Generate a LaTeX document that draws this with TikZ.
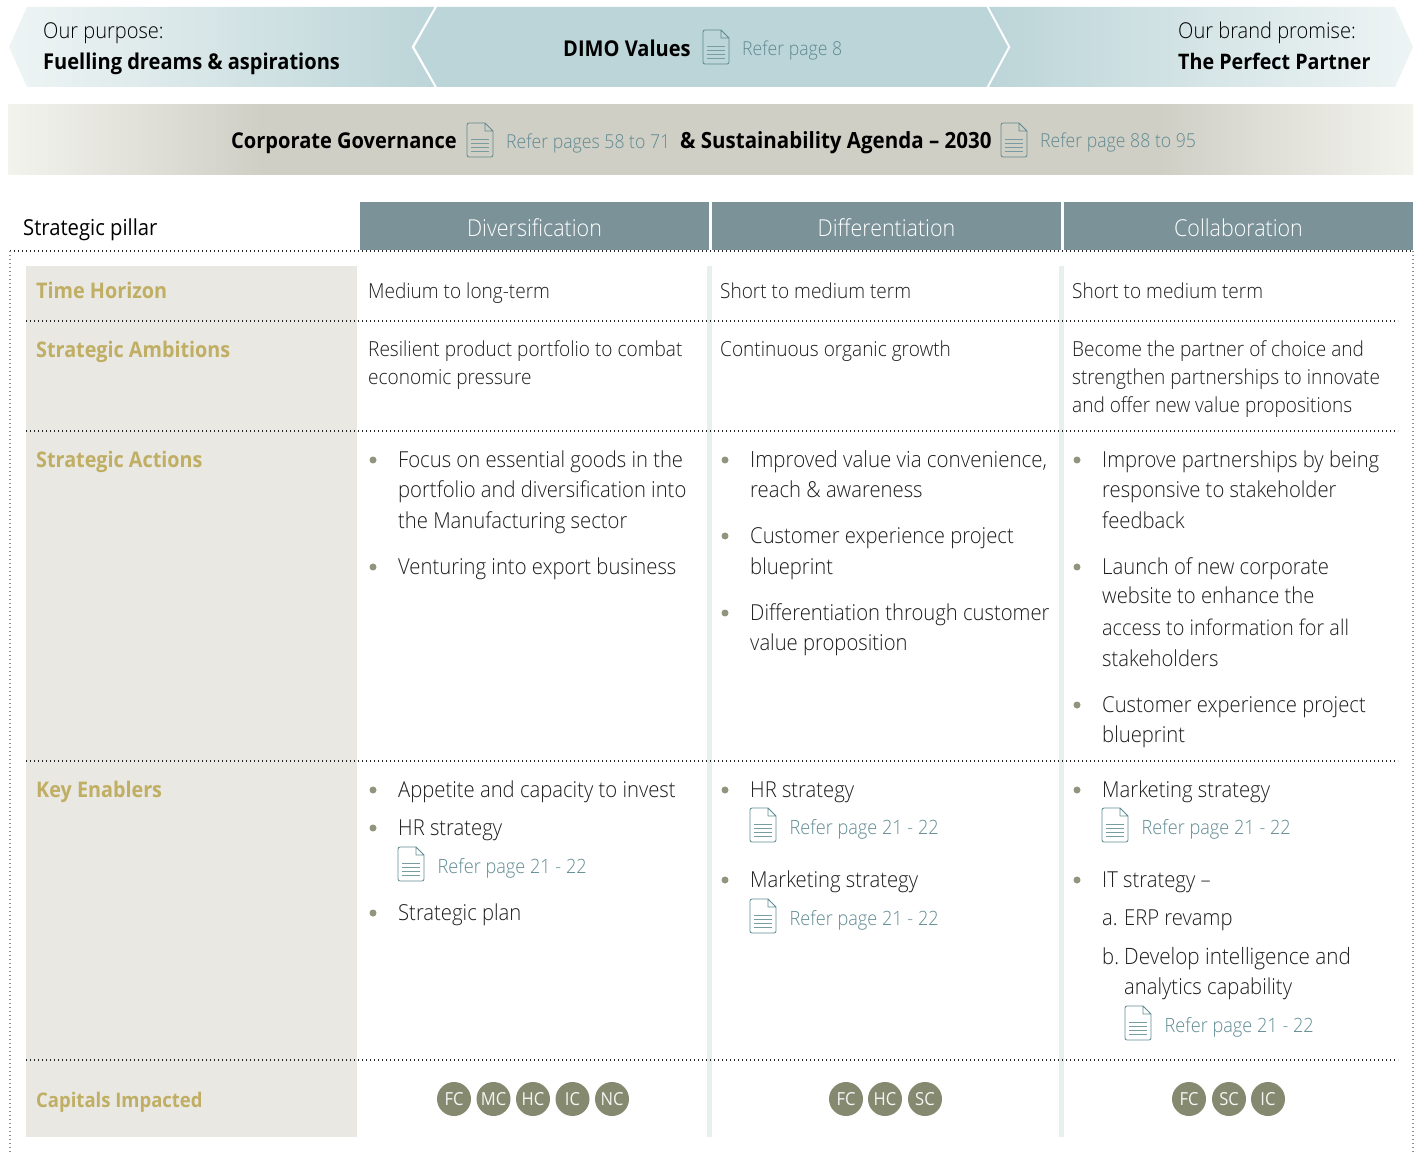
\documentclass[tikz,border=0pt]{standalone}
\usepackage{fontspec}
\setmainfont{Open Sans}[FakeStretch=0.92]
\newfontfamily\lightf{Open Sans Light}[FakeStretch=0.92]
\usetikzlibrary{calc}
\definecolor{hdr}{HTML}{7B9298}
\definecolor{arrowc}{HTML}{BCD5D8}
\definecolor{arrowl}{HTML}{EEF4F4}
\definecolor{band}{HTML}{D0CFC6}
\definecolor{bandl}{HTML}{F3F3EE}
\definecolor{labelbg}{HTML}{E9E8E2}
\definecolor{sepc}{HTML}{E8F0EF}
\definecolor{gold}{HTML}{BFAE63}
\definecolor{capc}{HTML}{85896F}
\definecolor{refc}{HTML}{5F8A92}
\definecolor{iconc}{HTML}{5F8A90}
\definecolor{bodyc}{HTML}{1C1C1C}
% tikz maps the central 25bp..75bp of a shading onto the path
\pgfdeclarehorizontalshading{bandshade}{100bp}{
  color(0bp)=(bandl); color(25bp)=(bandl); color(34bp)=(band);
  color(66bp)=(band); color(75bp)=(bandl); color(100bp)=(bandl)}
\newcounter{nid}
\tikzset{
  basetext/.style={anchor=base west,inner sep=0pt},
  body/.style={basetext,text=bodyc,font=\lightf\fontsize{22}{26}\selectfont},
  bodysm/.style={basetext,text=bodyc,font=\lightf\fontsize{20.7}{26}\selectfont},
  boldt/.style={basetext,text=black,font=\bfseries\fontsize{21.8}{26}\selectfont},
  plain/.style={basetext,text=black,font=\lightf\fontsize{21.8}{26}\selectfont},
  pillar/.style={basetext,text=black,font=\fontsize{22}{26}\selectfont},
  reft/.style={basetext,text=refc,font=\lightf\fontsize{19.7}{24}\selectfont},
  reftb/.style={basetext,text=refc,font=\lightf\fontsize{19.2}{24}\selectfont},
  labelt/.style={basetext,text=gold,font=\bfseries\fontsize{21.5}{26}\selectfont},
  labeltc/.style={basetext,text=gold,font=\bfseries\fontsize{20.1}{26}\selectfont},
  headt/.style={anchor=center,inner sep=0pt,text=white,font=\lightf\fontsize{23.3}{26}\selectfont},
  capn/.style={circle,fill=capc,minimum size=34pt,inner sep=0pt,text=white!92!capc,font=\fontsize{18}{22}\selectfont},
  dotl/.style={draw=black!85,line width=1.1pt,dash pattern=on 1.3pt off 2.7pt},
  dotv/.style={draw=black!45,line width=1.2pt,dash pattern=on 1.3pt off 2.7pt},
  iconl/.style={draw=iconc,line width=0.8pt,line join=round},
  bul/.style={circle,fill=capc!90,minimum size=7pt,inner sep=0pt},
}
\newcommand{\Tx}[4][body]{\stepcounter{nid}\node[#1] (t\thenid) at (#2,#3) {#4};}
\newcommand{\Fs}[2]{\fontsize{#1}{26}\selectfont #2}
\newcommand{\Bl}[2]{\stepcounter{nid}\node[bul] (b\thenid) at (#1,#2) {};}
\newcommand{\Cp}[3]{\stepcounter{nid}\node[capn] (c\thenid) at (#1,#2) {#3};}
% document icon, top-left x,y, width 26, height 34
\newcommand{\Ic}[2]{\begin{scope}[shift={(#1,#2)}]
  \draw[iconl] (18,0) -- (2,0) to[out=180,in=90] (0,2) -- (0,32) to[out=-90,in=180] (2,34) -- (24,34) to[out=0,in=-90] (26,32) -- (26,8) -- (18,0) -- (18,8) -- (26,8);
  \foreach \yy in {16,20,24,28}{\draw[iconl,line width=0.9pt,draw=iconc!85] (4,\yy) -- (22,\yy);}
\end{scope}}
\newcommand{\Rf}[3]{\Ic{#1}{#2}\Tx[reft]{#1+39.5}{#2+26}{#3}}
\begin{document}
\begin{tikzpicture}[x=1pt,y=-1pt]
\useasboundingbox (0,0) rectangle (1418,1155);
% top chevrons
\begin{scope}
  \clip (9,47) -- (27,7) -- (434.5,7) -- (411.5,47) -- (434.5,87) -- (27,87) -- cycle;
  \shade[left color=arrowl,right color=arrowc] (9,7) rectangle (435,87);
\end{scope}
\fill[arrowc] (437,7) -- (986.5,7) -- (1008,47) -- (986.5,87) -- (437,87) -- (414.5,47) -- cycle;
\begin{scope}
  \clip (1413,47) -- (1395,7) -- (989,7) -- (1010.5,47) -- (989,87) -- (1395,87) -- cycle;
  \shade[left color=arrowc,right color=arrowl] (988,7) rectangle (1413,87);
\end{scope}
% band
\shade[shading=bandshade] (8,105) rectangle (1413,175);
% header cells
\fill[hdr] (360,202) rectangle (709,250);
\fill[hdr] (712,202) rectangle (1061,250);
\fill[hdr] (1064,202) rectangle (1413,250);
% column backgrounds
\fill[labelbg] (26,266) rectangle (357,1137);
\fill[sepc] (707,266) rectangle (712,1137);
\fill[sepc] (1059,266) rectangle (1064,1137);
% dotted frame and rows
\draw[dotl] (10,251) -- (1413,251);
\draw[dotv] (10,251) -- (10,1155);
\draw[dotv] (1413,251) -- (1413,1155);
\foreach \yy in {321,431,761,1060}{\draw[dotl] (26,\yy) -- (1398,\yy);}
% top texts
\Tx[plain]{43}{39}{Our purpose:}
\Tx[boldt]{43}{70}{Fuelling dreams \& aspirations}
\Tx[boldt]{563}{57}{DIMO Values}
\Ic{703}{30}
\Tx[reftb]{742}{56}{Refer page 8}
\Tx[plain]{1178}{39}{Our brand promise:}
\Tx[boldt]{1178}{70}{\Fs{21.4}{The Perfect Partner}}
\Tx[boldt]{231}{149}{Corporate Governance}
\Ic{467}{123}
\Tx[reftb]{506}{149}{Refer pages 58 to 71}
\Tx[boldt]{680}{149}{\Fs{22.3}{\& Sustainability Agenda – 2030}}
\Ic{1001}{123}
\Tx[reftb]{1040}{148}{Refer page 88 to 95}
% headers
\Tx[pillar]{23}{236}{Strategic pillar}
\Tx[headt]{534.5}{228}{Diversification}
\Tx[headt]{886.5}{228}{Differentiation}
\Tx[headt]{1238.5}{228}{Collaboration}
% row labels
\Tx[labelt]{36}{299}{Time Horizon}
\Tx[labelt]{36}{357}{Strategic Ambitions}
\Tx[labelt]{36}{467}{Strategic Actions}
\Tx[labelt]{36}{797}{Key Enablers}
\Tx[labeltc]{36}{1107}{Capitals Impacted}
% time horizon
\Tx[bodysm]{368}{299}{Medium to long-term}
\Tx[bodysm]{720}{299}{Short to medium term}
\Tx[bodysm]{1072}{299}{Short to medium term}
% ambitions
\Tx[bodysm]{368}{356}{Resilient product portfolio to combat}
\Tx[bodysm]{368}{384}{economic pressure}
\Tx[bodysm]{720}{356}{Continuous organic growth}
\Tx[bodysm]{1072}{356}{Become the partner of choice and}
\Tx[bodysm]{1072}{384}{strengthen partnerships to innovate}
\Tx[bodysm]{1072}{412}{and offer new value propositions}
% actions col 1
\Bl{373}{460}
\Tx{398}{467}{Focus on essential goods in the}
\Tx{398}{497}{portfolio and diversification into}
\Tx{398}{528}{the Manufacturing sector}
\Bl{373}{567}
\Tx{398}{574}{Venturing into export business}
% actions col 2
\Bl{725}{460}
\Tx{750}{467}{\Fs{22.3}{Improved value via convenience,}}
\Tx{750}{497}{reach \& awareness}
\Bl{725}{536}
\Tx{750}{543}{Customer experience project}
\Tx{750}{574}{blueprint}
\Bl{725}{613}
\Tx{750}{620}{Differentiation through customer}
\Tx{750}{650}{value proposition}
% actions col 3
\Bl{1077}{460}
\Tx{1102}{467}{Improve partnerships by being}
\Tx{1102}{497}{responsive to stakeholder}
\Tx{1102}{528}{feedback}
\Bl{1077}{567}
\Tx{1102}{574}{Launch of new corporate}
\Tx{1102}{603}{website to enhance the}
\Tx{1102}{635}{\Fs{21.6}{access to information for all}}
\Tx{1102}{666}{stakeholders}
\Bl{1077}{705}
\Tx{1102}{712}{Customer experience project}
\Tx{1102}{742}{blueprint}
% enablers col 1
\Bl{373}{790}
\Tx{398}{797}{Appetite and capacity to invest}
\Bl{373}{828}
\Tx{398}{835}{HR strategy}
\Rf{398}{847}{Refer page 21 - 22}
\Bl{373}{913}
\Tx{398}{920}{Strategic plan}
% enablers col 2
\Bl{725}{790}
\Tx{750}{797}{HR strategy}
\Rf{750}{808}{Refer page 21 - 22}
\Bl{725}{880}
\Tx{750}{887}{Marketing strategy}
\Rf{750}{899}{Refer page 21 - 22}
% enablers col 3
\Bl{1077}{790}
\Tx{1102}{797}{Marketing strategy}
\Rf{1102}{808}{Refer page 21 - 22}
\Bl{1077}{880}
\Tx{1102}{887}{IT strategy –}
\Tx{1102}{925}{a.}
\Tx{1124}{925}{ERP revamp}
\Tx{1102}{964}{b.}
\Tx{1124}{964}{\Fs{22.5}{Develop intelligence and}}
\Tx{1124}{994}{analytics capability}
\Rf{1125}{1006}{Refer page 21 - 22}
% capitals
\Cp{454}{1099}{FC}\Cp{493.5}{1099}{MC}\Cp{533}{1099}{HC}\Cp{572.5}{1099}{IC}\Cp{612}{1099}{NC}
\Cp{846}{1099}{FC}\Cp{885}{1099}{HC}\Cp{925}{1099}{SC}
\Cp{1189}{1099}{FC}\Cp{1229}{1099}{SC}\Cp{1268}{1099}{IC}
\end{tikzpicture}
\end{document}
